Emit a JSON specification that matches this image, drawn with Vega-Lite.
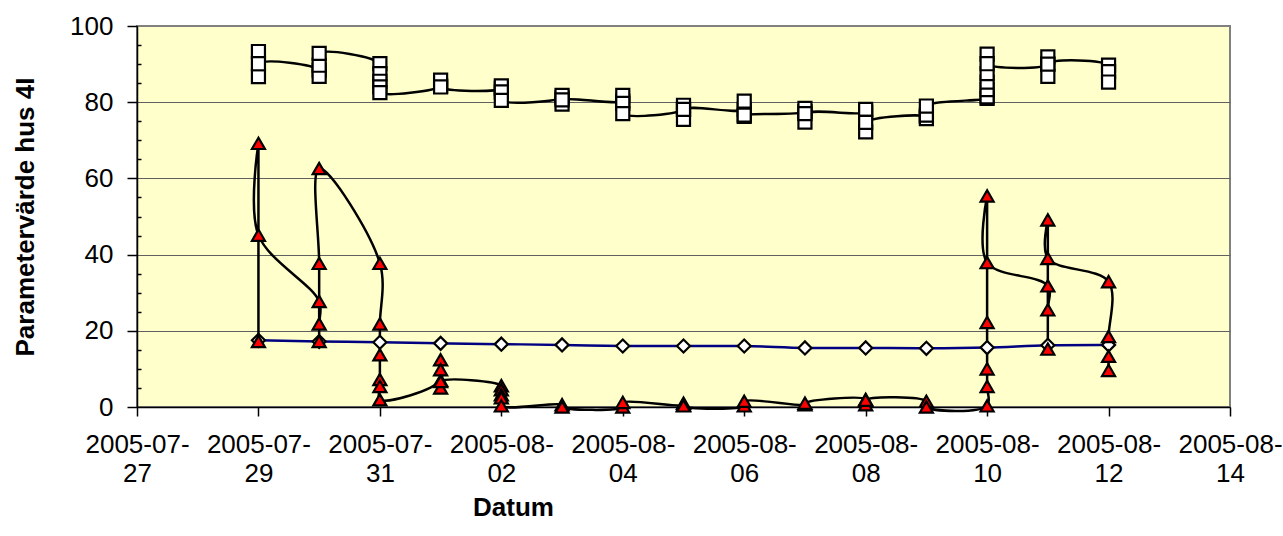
{
  "$schema": "https://vega.github.io/schema/vega-lite/v6.json",
  "width": 1093,
  "height": 381,
  "autosize": "none",
  "padding": {"left": 137, "top": 26, "right": 53, "bottom": 129},
  "background": "#FFFFFF",
  "config": {
    "font": "Liberation Sans",
    "view": {"fill": "#FFFFCC", "stroke": "#808080", "strokeWidth": 2}
  },
  "data": {
    "values": [
      {"s": "A", "d": "2005-07-29", "v": 93.3, "i": 1},
      {"s": "A", "d": "2005-07-29", "v": 86.7, "i": 2},
      {"s": "A", "d": "2005-07-29", "v": 90.1, "i": 3},
      {"s": "A", "d": "2005-07-30", "v": 88.4, "i": 4},
      {"s": "A", "d": "2005-07-30", "v": 86.8, "i": 5},
      {"s": "A", "d": "2005-07-30", "v": 89.7, "i": 6},
      {"s": "A", "d": "2005-07-30", "v": 92.8, "i": 7},
      {"s": "A", "d": "2005-07-31", "v": 90.1, "i": 8},
      {"s": "A", "d": "2005-07-31", "v": 87.5, "i": 9},
      {"s": "A", "d": "2005-07-31", "v": 85.5, "i": 10},
      {"s": "A", "d": "2005-07-31", "v": 84.0, "i": 11},
      {"s": "A", "d": "2005-07-31", "v": 82.5, "i": 12},
      {"s": "A", "d": "2005-08-01", "v": 84.3, "i": 13},
      {"s": "A", "d": "2005-08-01", "v": 85.8, "i": 14},
      {"s": "A", "d": "2005-08-01", "v": 84.0, "i": 15},
      {"s": "A", "d": "2005-08-02", "v": 83.6, "i": 16},
      {"s": "A", "d": "2005-08-02", "v": 84.3, "i": 17},
      {"s": "A", "d": "2005-08-02", "v": 82.7, "i": 18},
      {"s": "A", "d": "2005-08-02", "v": 80.5, "i": 19},
      {"s": "A", "d": "2005-08-03", "v": 81.2, "i": 20},
      {"s": "A", "d": "2005-08-03", "v": 81.8, "i": 21},
      {"s": "A", "d": "2005-08-03", "v": 79.5, "i": 22},
      {"s": "A", "d": "2005-08-03", "v": 80.6, "i": 23},
      {"s": "A", "d": "2005-08-04", "v": 80.3, "i": 24},
      {"s": "A", "d": "2005-08-04", "v": 81.8, "i": 25},
      {"s": "A", "d": "2005-08-04", "v": 79.7, "i": 26},
      {"s": "A", "d": "2005-08-04", "v": 77.0, "i": 27},
      {"s": "A", "d": "2005-08-05", "v": 78.1, "i": 28},
      {"s": "A", "d": "2005-08-05", "v": 79.2, "i": 29},
      {"s": "A", "d": "2005-08-05", "v": 75.5, "i": 30},
      {"s": "A", "d": "2005-08-05", "v": 78.1, "i": 31},
      {"s": "A", "d": "2005-08-06", "v": 78.1, "i": 32},
      {"s": "A", "d": "2005-08-06", "v": 80.3, "i": 33},
      {"s": "A", "d": "2005-08-06", "v": 76.3, "i": 34},
      {"s": "A", "d": "2005-08-06", "v": 76.6, "i": 35},
      {"s": "A", "d": "2005-08-07", "v": 77.5, "i": 36},
      {"s": "A", "d": "2005-08-07", "v": 78.4, "i": 37},
      {"s": "A", "d": "2005-08-07", "v": 74.8, "i": 38},
      {"s": "A", "d": "2005-08-07", "v": 77.0, "i": 39},
      {"s": "A", "d": "2005-08-08", "v": 77.3, "i": 40},
      {"s": "A", "d": "2005-08-08", "v": 78.1, "i": 41},
      {"s": "A", "d": "2005-08-08", "v": 72.2, "i": 42},
      {"s": "A", "d": "2005-08-08", "v": 74.7, "i": 43},
      {"s": "A", "d": "2005-08-09", "v": 76.2, "i": 44},
      {"s": "A", "d": "2005-08-09", "v": 75.7, "i": 45},
      {"s": "A", "d": "2005-08-09", "v": 76.6, "i": 46},
      {"s": "A", "d": "2005-08-09", "v": 79.0, "i": 47},
      {"s": "A", "d": "2005-08-10", "v": 81.0, "i": 48},
      {"s": "A", "d": "2005-08-10", "v": 81.4, "i": 49},
      {"s": "A", "d": "2005-08-10", "v": 83.3, "i": 50},
      {"s": "A", "d": "2005-08-10", "v": 85.3, "i": 51},
      {"s": "A", "d": "2005-08-10", "v": 87.5, "i": 52},
      {"s": "A", "d": "2005-08-10", "v": 92.6, "i": 53},
      {"s": "A", "d": "2005-08-10", "v": 90.1, "i": 54},
      {"s": "A", "d": "2005-08-11", "v": 90.0, "i": 55},
      {"s": "A", "d": "2005-08-11", "v": 91.9, "i": 56},
      {"s": "A", "d": "2005-08-11", "v": 86.8, "i": 57},
      {"s": "A", "d": "2005-08-11", "v": 90.0, "i": 58},
      {"s": "A", "d": "2005-08-12", "v": 89.7, "i": 59},
      {"s": "A", "d": "2005-08-12", "v": 88.0, "i": 60},
      {"s": "A", "d": "2005-08-12", "v": 85.3, "i": 61},
      {"s": "B", "d": "2005-07-29", "v": 17.5, "i": 1},
      {"s": "B", "d": "2005-07-30", "v": 17.2, "i": 2},
      {"s": "B", "d": "2005-07-31", "v": 17.0, "i": 3},
      {"s": "B", "d": "2005-08-01", "v": 16.7, "i": 4},
      {"s": "B", "d": "2005-08-02", "v": 16.5, "i": 5},
      {"s": "B", "d": "2005-08-03", "v": 16.3, "i": 6},
      {"s": "B", "d": "2005-08-04", "v": 16.0, "i": 7},
      {"s": "B", "d": "2005-08-05", "v": 16.0, "i": 8},
      {"s": "B", "d": "2005-08-06", "v": 16.0, "i": 9},
      {"s": "B", "d": "2005-08-07", "v": 15.5, "i": 10},
      {"s": "B", "d": "2005-08-08", "v": 15.5, "i": 11},
      {"s": "B", "d": "2005-08-09", "v": 15.4, "i": 12},
      {"s": "B", "d": "2005-08-10", "v": 15.6, "i": 13},
      {"s": "B", "d": "2005-08-11", "v": 16.2, "i": 14},
      {"s": "B", "d": "2005-08-12", "v": 16.3, "i": 15},
      {"s": "C", "d": "2005-07-29", "v": 17.2, "i": 1},
      {"s": "C", "d": "2005-07-29", "v": 69.2, "i": 2},
      {"s": "C", "d": "2005-07-29", "v": 45.1, "i": 3},
      {"s": "C", "d": "2005-07-30", "v": 27.7, "i": 4},
      {"s": "C", "d": "2005-07-30", "v": 21.8, "i": 5},
      {"s": "C", "d": "2005-07-30", "v": 17.2, "i": 6},
      {"s": "C", "d": "2005-07-30", "v": 37.7, "i": 7},
      {"s": "C", "d": "2005-07-30", "v": 62.6, "i": 8},
      {"s": "C", "d": "2005-07-31", "v": 37.7, "i": 9},
      {"s": "C", "d": "2005-07-31", "v": 21.8, "i": 10},
      {"s": "C", "d": "2005-07-31", "v": 13.7, "i": 11},
      {"s": "C", "d": "2005-07-31", "v": 7.2, "i": 12},
      {"s": "C", "d": "2005-07-31", "v": 5.4, "i": 13},
      {"s": "C", "d": "2005-07-31", "v": 1.9, "i": 14},
      {"s": "C", "d": "2005-08-01", "v": 7.0, "i": 15},
      {"s": "C", "d": "2005-08-01", "v": 12.4, "i": 16},
      {"s": "C", "d": "2005-08-01", "v": 9.8, "i": 17},
      {"s": "C", "d": "2005-08-01", "v": 5.0, "i": 18},
      {"s": "C", "d": "2005-08-01", "v": 6.7, "i": 19},
      {"s": "C", "d": "2005-08-02", "v": 5.6, "i": 20},
      {"s": "C", "d": "2005-08-02", "v": 4.5, "i": 21},
      {"s": "C", "d": "2005-08-02", "v": 3.2, "i": 22},
      {"s": "C", "d": "2005-08-02", "v": 2.4, "i": 23},
      {"s": "C", "d": "2005-08-02", "v": 0.3, "i": 24},
      {"s": "C", "d": "2005-08-03", "v": 0.6, "i": 25},
      {"s": "C", "d": "2005-08-03", "v": 0.0, "i": 26},
      {"s": "C", "d": "2005-08-04", "v": 0.0, "i": 27},
      {"s": "C", "d": "2005-08-04", "v": 1.2, "i": 28},
      {"s": "C", "d": "2005-08-05", "v": 0.5, "i": 29},
      {"s": "C", "d": "2005-08-05", "v": 1.0, "i": 30},
      {"s": "C", "d": "2005-08-05", "v": 0.3, "i": 31},
      {"s": "C", "d": "2005-08-06", "v": 0.3, "i": 32},
      {"s": "C", "d": "2005-08-06", "v": 1.5, "i": 33},
      {"s": "C", "d": "2005-08-07", "v": 0.6, "i": 34},
      {"s": "C", "d": "2005-08-07", "v": 1.0, "i": 35},
      {"s": "C", "d": "2005-08-08", "v": 2.0, "i": 36},
      {"s": "C", "d": "2005-08-08", "v": 0.6, "i": 37},
      {"s": "C", "d": "2005-08-08", "v": 1.8, "i": 38},
      {"s": "C", "d": "2005-08-09", "v": 1.5, "i": 39},
      {"s": "C", "d": "2005-08-09", "v": 0.0, "i": 40},
      {"s": "C", "d": "2005-08-10", "v": 0.3, "i": 41},
      {"s": "C", "d": "2005-08-10", "v": 5.4, "i": 42},
      {"s": "C", "d": "2005-08-10", "v": 10.0, "i": 43},
      {"s": "C", "d": "2005-08-10", "v": 22.2, "i": 44},
      {"s": "C", "d": "2005-08-10", "v": 55.4, "i": 45},
      {"s": "C", "d": "2005-08-10", "v": 37.9, "i": 46},
      {"s": "C", "d": "2005-08-11", "v": 31.8, "i": 47},
      {"s": "C", "d": "2005-08-11", "v": 25.5, "i": 48},
      {"s": "C", "d": "2005-08-11", "v": 15.2, "i": 49},
      {"s": "C", "d": "2005-08-11", "v": 49.1, "i": 50},
      {"s": "C", "d": "2005-08-11", "v": 39.0, "i": 51},
      {"s": "C", "d": "2005-08-12", "v": 32.9, "i": 52},
      {"s": "C", "d": "2005-08-12", "v": 18.5, "i": 53},
      {"s": "C", "d": "2005-08-12", "v": 13.3, "i": 54},
      {"s": "C", "d": "2005-08-12", "v": 9.6, "i": 55}
    ]
  },
  "encoding": {
    "x": {
      "field": "d",
      "type": "temporal",
      "scale": {
        "type": "utc",
        "domain": [
          {"year": 2005, "month": 7, "date": 27, "utc": true},
          {"year": 2005, "month": 8, "date": 14, "utc": true}
        ]
      },
      "axis": {
        "values": [
          {"year": 2005, "month": 7, "date": 27, "utc": true},
          {"year": 2005, "month": 7, "date": 29, "utc": true},
          {"year": 2005, "month": 7, "date": 31, "utc": true},
          {"year": 2005, "month": 8, "date": 2, "utc": true},
          {"year": 2005, "month": 8, "date": 4, "utc": true},
          {"year": 2005, "month": 8, "date": 6, "utc": true},
          {"year": 2005, "month": 8, "date": 8, "utc": true},
          {"year": 2005, "month": 8, "date": 10, "utc": true},
          {"year": 2005, "month": 8, "date": 12, "utc": true},
          {"year": 2005, "month": 8, "date": 14, "utc": true}
        ],
        "labelExpr": "[utcFormat(datum.value, '%Y-%m-'), utcFormat(datum.value, '%d')]",
        "labelFontSize": 26,
        "labelColor": "#000000",
        "labelLineHeight": 29,
        "labelPadding": 15,
        "labelAngle": 0,
        "labelAlign": "center",
        "labelBaseline": "top",
        "labelOverlap": false,
        "labelFlush": false,
        "tickSize": 9,
        "tickColor": "#000000",
        "tickWidth": 1.5,
        "domainColor": "#000000",
        "domainWidth": 1.5,
        "grid": false,
        "title": "Datum",
        "titleFontSize": 26,
        "titleFontWeight": "bold",
        "titleColor": "#000000",
        "titleX": 376,
        "titleY": 108,
        "titleAlign": "center",
        "titleBaseline": "alphabetic"
      }
    },
    "y": {
      "field": "v",
      "type": "quantitative",
      "scale": {"domain": [0, 100], "nice": false},
      "axis": {
        "values": [0, 5, 10, 15, 20, 25, 30, 35, 40, 45, 50, 55, 60, 65, 70, 75, 80, 85, 90, 95, 100],
        "labelExpr": "datum.value % 20 === 0 ? datum.label : ''",
        "labelFontSize": 26,
        "labelColor": "#000000",
        "labelPadding": 14,
        "labelBaseline": "middle",
        "labelFlush": false,
        "labelOverlap": false,
        "tickSize": {"condition": {"test": "datum.value % 20 === 0", "value": 10}, "value": -4},
        "tickColor": "#000000",
        "tickWidth": 1.5,
        "domainColor": "#000000",
        "domainWidth": 1.5,
        "grid": true,
        "gridColor": "#606060",
        "gridWidth": 1,
        "gridOpacity": {"condition": {"test": "datum.value % 20 === 0 && datum.value > 0 && datum.value < 100", "value": 1}, "value": 0},
        "title": "Parametervärde hus 4I",
        "titleFontSize": 26,
        "titleFontWeight": "bold",
        "titleColor": "#000000",
        "titleAngle": -90,
        "titleX": -104,
        "titleY": 190.5,
        "titleAlign": "center",
        "titleBaseline": "alphabetic"
      }
    }
  },
  "layer": [
    {
      "mark": {"type": "line", "interpolate": "catmull-rom", "strokeWidth": 2.5},
      "encoding": {
        "stroke": {
          "field": "s",
          "type": "nominal",
          "scale": {"domain": ["A", "B", "C"], "range": ["#000000", "#000080", "#000000"]},
          "legend": null
        },
        "order": {"field": "i", "type": "quantitative"}
      }
    },
    {
      "mark": {"type": "point", "filled": true, "stroke": "#000000", "strokeWidth": 2.2, "size": 170, "opacity": 1},
      "encoding": {
        "shape": {
          "field": "s",
          "type": "nominal",
          "scale": {"domain": ["A", "B", "C"], "range": ["square", "diamond", "triangle-up"]},
          "legend": null
        },
        "fill": {
          "field": "s",
          "type": "nominal",
          "scale": {"domain": ["A", "B", "C"], "range": ["#FFFFFF", "#FFFFFF", "#FF0000"]},
          "legend": null
        }
      }
    }
  ]
}
